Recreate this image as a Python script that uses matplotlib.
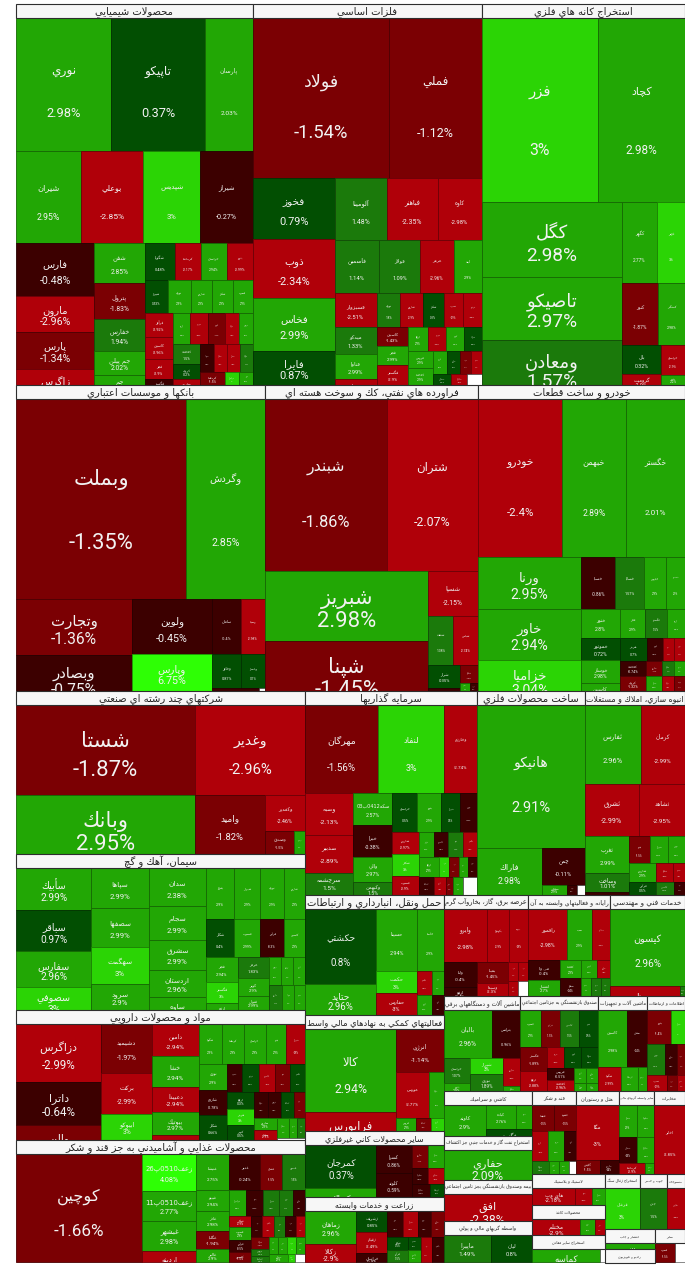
import re
import matplotlib
matplotlib.use('Agg')
import matplotlib.pyplot as plt
from matplotlib.patches import Rectangle

def R(*c): return ('R', c)   # children side by side
def C(*c): return ('C', c)   # children stacked

tiny_names = ['شگویا','کرماشا','خراسان','پترو','شیراز','نوری','شاروم','شکلر','فسرب','فرآور','کاسپین','فجر',
              'فگستر','ارفع','هرمز','کویر','فنوال','فروس','کحافظ','کروی','ساروم','سفار','سکرما','سقاین']

chem = C(R((12540,'نوري',2.98),(12408,'تاپيكو',0.37),(6336,'پارسان',2.03)),
    R((5980,'شيران',2.95),(5796,'بوعلي',-2.85),(5244,'شپديس',3),(4876,'شيراز',-0.27)),
    R(C((4134,'فارس',-0.48),(2808,'مارون',-2.96),(2886,'پارس',-1.34),(1248,'زاگرس',-2.99)),
      C((2000,'شفن',2.85),(1800,'پترول',-1.83),(1600,'خفارس',1.94),(1200,'جم پيلن',2.02),(500,'جم',2.9)),
      C(R((1110,0.48),(962,-2.17),(962,2.94),(962,-2.99)),
        R((759,0.53),(759,2.9),(693,2.9),(693,2.9),(660,2.9)),
        R(C((672,-2.92),(616,-2.96),(588,-2.9),(168,-0.5)),
          C(R((527,2.9),(527,-2.9),(527,-1.5),(434,-2.9),(434,2.9)),
            R(C((540,1.5),(405,0.2),(162,-2.85)),
              C(R((364,-0.6),(364,-2.9),(364,-2.9),(364,1.5)),R((325,-1.5),(182,3),(182,2.9)))))))))

metal_tail = C(R((322,2.9),(299,0.5),(253,-1.5),(230,-2.9)),R((198,0.7),(176,-2.9),(154,None)))
metal_small = C(R((480,2.9),(432,-2.9),(432,2.9),(408,0.6)),R(C((425,2.9),(425,2.9)),metal_tail))
metal_right = C(R((782,1.8),(748,-2.9),(714,0.3),(646,-2.9),(612,-2.9)),R(C((589,-1.43),(589,2.99),(620,-2.9)),metal_small))
metals = C(R((21624,'فولاد',-1.54),(14628,'فملي',-1.12)),
    R(C((4941,'فخوز',0.79),(4779,'ذوب',-2.34),(4293,'فخاس',2.99),(2754,'فايرا',0.87)),
      C(R((3172,'آلومينا',1.48),(3111,'فباهنر',-2.35),(2684,'كاوه',-2.98)),
        R((2376,'فاسمين',1.14),(2160,'فولاژ',1.09),(1836,'هرمز',-2.96),(1458,'ابند',2.9)),
        R(C((1428,'فسبزوار',-2.51),(1134,'ميدكو',1.33),(1050,'فناوا',2.99),(252,-2.9)),metal_right))))

mines = C(R((21228,'فزر',3),(15921,'كچاد',2.98)),
    R(C((10500,'كگل',2.98),(8820,'تاصيكو',2.97),(6300,'ومعادن',1.57)),
      C(R((2835,'كگهر',2.77),(2268,'ذوبر',3)),
        R((2232,'كنور',-1.87),(1674,'كمنگنز',2.98)),
        R(C((1131,'بال',0.32),(429,'گروميت',-2.9)),C((720,-2.9),(240,2.2))))))

banks = C(R((34000,'وبملت',-1.35),(15800,'وگردش',2.85)),
    R(C((6496,'وتجارت',-1.36),(4176,'وبصادر',-0.75)),
      C(R((4400,'ولوين',-0.45),(1595,'سامان',-0.4),(1320,'وسينا',-2.98)),
        R((2960,'وپارس',6.75),
          C(R((986,'وخاور',0.87),(816,'وپاسار',0.7)),R((141,-0.4),(18,None)))))))

refining = C(R((20812,'شبندر',-1.86),(15652,'شتران',-2.07)),
    R(C((11410,'شبريز',2.98),(8150,'شپنا',-1.45)),
      C((2200,'شسپا',-2.15),
        R((1225,'شنفت',1.38),(1225,'شپاس',-2.74)),
        R(C((704,'شراز',0.35),(120,-0.5)),C((324,-1.5),R((80,2.9),(64,-0.4)))))))

auto = C(R((13272,'خودرو',-2.4),(10112,'خبهمن',2.89),(9322,'خگستر',2.01)),
    R(C((5356,'ورنا',2.95),(5253,'خاور',2.94),(3193,'خزاميا',3.04)),
      C(R((1734,'خسپا',-0.86),(1479,'خساپا',1.57),(1122,'خپارس',2.9),(969,'خمحور',2.9)),
        R(C((1102,'خنور',2.8),(874,'خموتور',0.72),(874,'خوساز',2.98),(304,2.9)),
          C(R((754,2.9),(638,1.5),(522,2.9)),
            R((621,0.7),(368,-0.9),(253,-2.9),(253,-2.9)),
            R(C((405,-0.74),(405,-1.32)),C((240,-1.5),(240,2.9)),
              C(R((180,1.5),(165,2.9)),R((180,-2.9),(165,-1.5)))))))))

multi = R(C((16110,'شستا',-1.87),(10561,'وبانك',2.95)),
    C((9900,'وغدير',-2.96),
      R((4130,'واميد',-1.82),C((1440,'وكغدير',-2.46),R((667,'وصندوق',-1.5),(253,2.9))))))

cement = R(C((3150,'سأبيك',2.99),(3075,'سباقر',0.97),(2700,'سفارس',2.96),(1725,'سصوفي',3)),
    C((2280,'سپاها',2.99),(2223,'سصفها',2.99),(2109,'سهگمت',3),(1482,'سرود',2.9)),
    C((2166,'سدان',2.38),(1938,'سجام',2.99),(1710,'سشرق',2.99),(1539,'اردستان',2.96),(741,'ساوه',2.9)),
    C(R((1428,2.9),(1326,2.9),(1224,2.9),(1071,2.9)),
      R((1064,0.4),(988,2.99),(912,-0.3),(798,2.9)),
      R(C((768,2.94),(672,3),(224,2.9)),
        C((620,1.83),(558,2.9),(434,2.99)),
        C(R((351,2.9),(324,2.9),(324,2.9)),R((350,1.3),(300,2.9),(275,2.9))))))

pharma_tail = R(C((276,2.9),(230,-2.9)),C(R((242,2.9),(154,2.9),(154,1.5)),(60,None)))
pharma_small = R(C((442,0.3),(416,3),(390,0.5)),C(R((364,-0.5),(338,-0.5),(338,0.5),(286,-1.5)),pharma_tail))
pharma = R(C((4845,'دزاگرس',-2.99),(3655,'داترا',-0.64),(1275,'والبر',-1.5)),
    C((2400,'دشيميد',-1.97),(2050,'بركت',-2.99),(1300,'ابيوكو',3)),
    C((1504,'دامين',-2.94),(1410,'خشا',2.94),(1175,'دعبيدا',-2.94),(1081,'بيوتيك',2.97),(235,-2.9)),
    C(R((897,2.9),(858,2.9),(858,2.9),(819,2.9),(741,-2.9)),
      R(C((725,2.9),(696,-0.78),(696,0.66)),
        C(R((420,-0.5),(476,0.5),(448,-2.9),(420,-1.5),(420,0.5)),pharma_small))))

food_tail = R(C((216,-1.5),(126,1.5),(108,1.5)),C(R((153,2.9),(153,2.9),(153,3),(153,2.9)),R((152,2.9),(56,3),(80,None))))
food_small = R(C((242,-2.9),(286,2.9),(264,-0.5),(220,-1.5)),C(R((231,-0.5),(252,-2.9),(231,1.5),(231,-0.5),(189,-2.9)),food_tail))
food = R((13482,'كوچين',-1.66),
    C((1998,'زعف0510پ26',4.08),(1566,'زعف0510پ11',2.77),(1620,'غبشهر',2.98),(594,'اردينه',-2.9)),
    C(R((1188,'غنيشا',2.75),(1116,'غدير',-0.24),(792,'غشان',-1.5),(828,'غصين',1.5)),
      R(C((660,'غپينو',2.94),(660,'غاذر',2.98),(594,'غگلپا',-1.94),(429,'غالبر',2.9)),
        C(R((425,2.9),(425,-0.4),(400,1.5),(350,1.5),(300,-0.5)),food_small))))

invest_small = C(R((375,2.9),(375,-0.4),(375,1.5),(350,-2.9)),
    R((400,2.9),(200,3),(180,-1.5),(180,2.9),(180,-0.4)),
    R((270,-0.4),(216,-2.9),(126,-1.5),(190,2.9),(252,None)))
invest = C(R((6351,'مهرگان',-1.56),(5742,'لنفاد',3),(2871,'وخارزم',-2.74)),
    R(C((2016,'وصبه',-2.13),(1824,'صدبير',-2.89),(1056,'سرچشمه',1.5)),
      C((1248,'سكه0412پ03',2.57),(1248,'خبرا',-0.38),(975,'والي',2.97),(507,'وكبهمن',1.5)),
      C(R((975,0.5),(936,2.9),(741,0.5),(663,-0.4)),
        R(C((572,-2.97),(572,3),(494,-2.9)),invest_small))))

metalprod = C((15336,'هانيكو',2.91),
    R((2990,'فاراك',2.98),C((1548,'چمن',-0.11),R((250,2.9),(100,-0.4),(80,None)))))

construct = C(R((4290,'ثفارس',2.96),(3432,'كرمان',-2.99)),
    R((2756,'ثشرق',-2.99),(2392,'ثشاهد',-2.95)),
    R(C((1628,'ثغرب',2.99),(792,'وساخت',1.01),(132,-0.4)),
      C(R((540,-1.5),(486,2.9),(459,2.9)),R((468,2.9),(306,-2.9),(216,-2.9)),R((338,0.5),(234,1.5),(143,-0.5)))))

transport = R(C((5325,'حكشتي',0.8),(2201,'حتايد',2.96)),
    C(R((2480,'حسينا',2.94),(1674,'حآسا',2.9)),
      R(C((880,'حكمت',3),(880,'حفارس',-3)),C((360,-2.9),(300,2.9)),C((288,2.9),(240,-0.9)))))

electric = C(R((2332,'وايرو',-2.98),(1166,'بكهنوج',-2.9),(1007,'بپيوند',-2.9)),
    R(C((792,'ولتا',-0.4),(297,-0.4)),C((640,'بمپنا',-1.45),(416,'وسيما',-2.3)),
      C(R((180,-2.9),(180,-2.9)),R((150,-2.9),(150,None)))))

itsec = C(R((1989,'رافمور',-2.98),(1275,'سپ',2.9),(918,'مفاخر',-2.9)),
    R(C((608,'مي وا',-0.4),(512,'انتشار',2.7)),
      C(R((357,2.9),(272,2.9),(221,-2.9)),R((378,-0.4),(180,2.9),(180,1.5),(162,1.5)))))

engin = C((5625,'كيسون',2.96),R((700,'رمپنا',-2.9),(50,1.5)))

machinery = C(R((2304,'بالبان',2.96),(1316,'بترانس',-0.96)),
    R(C((624,1.07),(208,2.9)),C((528,3),(561,1.89)),C((464,-2.9),(80,2.9))))

fund_small = R(C((324,-0.51),(297,-2.96)),C(R((180,2.9),(180,2.9)),R((96,2.9),(96,2.9))))
fund = C(R((740,2.9),(703,-1.5),(703,1.5),(703,0.5)),
    R(C((648,-1.89),(540,-2.88)),C(R((357,-2.9),(357,0.5),(357,0.5)),fund_small)))

equip = C(R((1653,'كاسپين',2.98),(1140,-0.4)),R((552,-2.99),(408,2.9),(216,2.9)))
lastbox = C(R((850,-1.4),(476,3)),R((558,1.5),(403,-0.5),(248,-1.5)),R((320,-2.9),(176,-1.5),(128,-2.9)))

finaid = R(C((7553,'كالا',2.94),(1729,'فرابورس',-2.94)),
    C((2021,'انرژي',-1.14),R((1518,'هورس',-2.77),(658,2.9)),R((260,2.9),(182,-1.5),(169,3))))
othernm = R(C((3053,'كمرجان',0.37),(639,'كخاك',2.9)),
    C((980,'كسرا',-0.86),(840,'كلوند',-0.59)),
    C(R((368,-1.5),(368,2.9)),R((256,-0.5),(256,-2.9)),R((234,-0.5),(182,0.5))))
agri = R(C((1683,'زماهان',2.96),(918,'زكالا',-2.9)),
    C((651,'زشريف',0.85),(651,'زقيام',-2.49),(279,-0.9)),
    C(R((390,-0.4),(390,-2.9),(338,-0.4),(338,-1.5)),
      R(C(R((260,0.5),(169,0.5)),R((240,1.5),(156,2.9))),(275,-2.9),(300,-0.5))))
kashi = R((1302,'كاوند',2.9),C(R((720,'كباده',2.76),(384,2.9)),(322,0.5)))
oilsvc = R((2640,'حفاري',2.09),)
insur = R((2464,'افق',-2.38),)
leasing = R((1269,'ماپيرا',1.49),(1107,'ليان',0.8))
sugar = C(R((528,'قنيشا',-1.5),(528,'قشهد',-1.5)),R((448,-2.9),(448,2.9),(336,-0.4)),R((196,1.5),(126,2.9),(112,2.9),(84,None)))
hotel = C((2322,'مگا',-3),R((336,'گكيش',-1.5),(266,-0.4)))
othfin = C(R((589,2.9),(527,2.9)),R((475,-0.5),(425,2.9)),R((270,-2.9),(90,2.9)))
telecom = R((2108,'اخابر',-2.85),)
rubber = R((714,'هاي وب',-2.18),(272,-2.9),(221,2.9))
paper = R((705,'مختلم',-2.9),(210,2.9),(150,-2.9))
misc = R((924,'كماسه',2.9),(70,None))
coal = R((1330,'قزغال',3),)
wood = R((1036,'چدن',1.5),)
textile = R((700,'نطرين',-2.9),)
palas = R((370,'پالاس',2.9),)
radio = R((160,'راديو',0.4),)
lease2 = R((140,-1.5),(70,None))

sector_titles = {
 'chem':'محصولات شيميايي','metals':'فلزات اساسي','mines':'استخراج كانه هاي فلزي',
 'banks':'بانكها و موسسات اعتباري','refining':'فراورده هاي نفتي، كك و سوخت هسته اي','auto':'خودرو و ساخت قطعات',
 'multi':'شركتهاي چند رشته اي صنعتي','cement':'سيمان، آهك و گچ','pharma':'مواد و محصولات دارويي',
 'food':'محصولات غذايي و آشاميدني به جز قند و شكر','invest':'سرمايه گذاريها','metalprod':'ساخت محصولات فلزي',
 'construct':'انبوه سازي، املاك و مستغلات','transport':'حمل ونقل، انبارداري و ارتباطات',
 'electric':'عرضه برق، گاز، بخاروآب گرم','itsec':'رايانه و فعاليتهاي وابسته به آن','engin':'خدمات فني و مهندسي',
 'machinery':'ماشين آلات و دستگاههاي برقي','fund':'صندوق بازنشستگي به جزتامين اجتماعي','equip':'ماشين آلات و تجهيزات',
 'lastbox':'اطلاعات و ارتباطات','finaid':'فعاليتهاي كمكي به نهادهاي مالي واسط','othernm':'ساير محصولات كاني غيرفلزي',
 'agri':'زراعت و خدمات وابسته','kashi':'كاشي و سراميك','oilsvc':'استخراج نفت گاز و خدمات جنبي جز اكتشاف',
 'insur':'بيمه وصندوق بازنشستگي بجز تامين اجتماعي','leasing':'واسطه گريهاي مالي و پولي','sugar':'قند و شكر',
 'hotel':'هتل و رستوران','othfin':'ساير واسطه گريهاي مالي','telecom':'مخابرات','rubber':'لاستيك و پلاستيك',
 'paper':'محصولات كاغذ','misc':'استخراج ساير معادن','coal':'استخراج زغال سنگ','wood':'چوب و حصير','textile':'منسوجات',
 'palas':'انتشار و چاپ','radio':'راديو و تلويزيون','lease2':'ساير',
}
sector_bodies = dict(chem=chem,metals=metals,mines=mines,banks=banks,refining=refining,auto=auto,multi=multi,
  cement=cement,pharma=pharma,food=food,invest=invest,metalprod=metalprod,construct=construct,transport=transport,
  electric=electric,itsec=itsec,engin=engin,machinery=machinery,fund=fund,equip=equip,lastbox=lastbox,finaid=finaid,
  othernm=othernm,agri=agri,kashi=kashi,oilsvc=oilsvc,insur=insur,leasing=leasing,sugar=sugar,hotel=hotel,othfin=othfin,
  telecom=telecom,rubber=rubber,paper=paper,misc=misc,coal=coal,wood=wood,textile=textile,palas=palas,radio=radio,lease2=lease2)

# market size of every sector, arranged as the same kind of tree
m_tiny = C(R((1908,'coal'),(1484,'wood'),(1007,'textile')),R(C((990,'palas'),(675,'radio')),(999,'lease2')))
m_low = R(C((2272,'rubber'),(2130,'paper'),(1988,'misc')),m_tiny)
m_small = R(C((3960,'kashi'),(3872,'oilsvc'),(3696,'insur'),(3608,'leasing')),
    C(R((3608,'sugar'),(3526,'hotel'),(2952,'othfin'),(2542,'telecom')),m_low))
m_right = C(R((8585,'electric'),(8282,'itsec'),(7575,'engin')),
    R((7315,'machinery'),(7410,'fund'),(4655,'equip'),(3610,'lastbox')),m_small)
m_rest = C(R((34916,'invest'),(21924,'metalprod'),(20300,'construct')),
    R(C((16698,'transport'),(16008,'finaid'),(9108,'othernm'),(8970,'agri')),m_right))
market = C(R((90297,'chem'),(87059,'metals'),(77533,'mines')),
    R((76194,'banks'),(65178,'refining'),(63342,'auto')),
    R(C((47107,'multi'),(45084,'cement'),(37570,'pharma'),(35258,'food')),m_rest))

# ---- Arabic shaping (matplotlib has no text shaper) ----
D = {'ب':0xFE8F,'ت':0xFE95,'ث':0xFE99,'ج':0xFE9D,'ح':0xFEA1,'خ':0xFEA5,'س':0xFEB1,'ش':0xFEB5,'ص':0xFEB9,'ض':0xFEBD,
     'ط':0xFEC1,'ظ':0xFEC5,'ع':0xFEC9,'غ':0xFECD,'ف':0xFED1,'ق':0xFED5,'ك':0xFED9,'ل':0xFEDD,'م':0xFEE1,'ن':0xFEE5,
     'ه':0xFEE9,'ي':0xFEF1,'ی':0xFBFC,'پ':0xFB56,'چ':0xFB7A,'ک':0xFB8E,'گ':0xFB92}
U = {'ا':0xFE8D,'آ':0xFE81,'أ':0xFE83,'د':0xFEA9,'ذ':0xFEAB,'ر':0xFEAD,'ز':0xFEAF,'ژ':0xFB8A,'و':0xFEED}

def shape(s):
    out = []
    i = 0
    n = len(s)
    while i < n:
        ch = s[i]
        prev_j = i > 0 and s[i-1] in D
        if ch == 'ل' and i+1 < n and s[i+1] in ('ا','آ','أ'):
            base = {'ا':0xFEFB,'آ':0xFEF5,'أ':0xFEF7}[s[i+1]]
            out.append(chr(base + (1 if prev_j else 0)))
            i += 2
            continue
        next_j = i+1 < n and (s[i+1] in D or s[i+1] in U)
        if ch in D:
            form = (3 if next_j else 1) if prev_j else (2 if next_j else 0)
            out.append(chr(D[ch] + form))
        elif ch in U:
            out.append(chr(U[ch] + (1 if prev_j else 0)))
        else:
            out.append(ch)
        i += 1
    visual = ''.join(reversed(out))
    return re.sub(r'[0-9A-Za-z.]+', lambda m: m.group(0)[::-1], visual)

def colour(p):
    if p is None: return '#ffffff'
    if p >= 3.5: return '#2eff05'
    if p >= 3: return '#2bd405'
    if p >= 2: return '#22a705'
    if p >= 1: return '#1b7a0b'
    if p >= 0: return '#024f02'
    if p > -1: return '#3c0000'
    if p > -2: return '#7b0003'
    return '#b00009'

def edge(c):
    r, g, b = matplotlib.colors.to_rgb(c)
    return (r*.62, g*.62, b*.62)

def total(node):
    if node[0] in ('R', 'C'):
        return sum(total(k) for k in node[1])
    return node[0]

fig = plt.figure(figsize=(6.85, 12.8), dpi=100, facecolor='white')
ax = fig.add_axes([0, 0, 1, 1])
ax.set_xlim(0, 685)
ax.set_ylim(1280, 0)
ax.axis('off')
renderer = fig.canvas.get_renderer()

pool = {'i': 0}
LAT = ['Roboto', 'DejaVu Sans']
AR = ['DejaVu Sans']

def draw_leaf(leaf, x, y, w, h):
    if len(leaf) == 3:
        _, name, p = leaf
    else:
        _, p = leaf
        name = tiny_names[pool['i'] % len(tiny_names)]
        pool['i'] += 1
    if p is None:
        ax.add_patch(Rectangle((x, y), w, h, fc='white', ec='#303030', lw=0.4))
        return
    col = colour(p)
    rect = Rectangle((x, y), w, h, fc=col, ec=edge(col), lw=0.6)
    ax.add_patch(rect)
    px = min(w / 7.4, 22)
    pt = px * 0.72
    sep = max(0.32 * h, 1.05 * px)
    c = max(0.56 * h, 1.7 * px)
    t1 = ax.text(x + w/2, y + c - sep/2, shape(name), ha='center', va='center', color='#f2f2f2',
                 fontsize=pt*0.95, family=AR, clip_on=True)
    t2 = ax.text(x + w/2, y + c + sep/2, f'{p:g}%', ha='center', va='center', color='#f2f2f2',
                 fontsize=pt, family=LAT, clip_on=True)
    t1.set_clip_path(rect)
    t2.set_clip_path(rect)

def layout(node, x, y, w, h, fn):
    if node[0] in ('R', 'C'):
        tot = total(node)
        pos = 0.0
        for k in node[1]:
            f = total(k) / tot
            if node[0] == 'R':
                layout(k, x + pos*w, y, f*w, h, fn)
            else:
                layout(k, x, y + pos*h, w, f*h, fn)
            pos += f
    else:
        fn(node, x, y, w, h)

def draw_sector(leaf, x, y, w, h):
    key = leaf[1]
    hh = 14.0
    layout(sector_bodies[key], x, y + hh, w, h - hh, draw_leaf)
    head = Rectangle((x, y), w, hh, fc='#f7f7f7', ec='#2e2e2e', lw=0.8, zorder=3)
    ax.add_patch(head)
    fs = min(max(0.06 * (w*h)**0.5, 2.4), 7.2)
    t = ax.text(x + w/2, y + hh/2 + 0.5, shape(sector_titles[key]), ha='center', va='center',
                color='#222222', fontsize=fs, family=AR, zorder=4, clip_on=True)
    tw = t.get_window_extent(renderer).width
    if tw > w - 3:
        t.set_fontsize(fs * (w - 3) / tw)
    t.set_clip_path(head)

layout(market, 16, 4, 669, 1258, draw_sector)
fig.savefig('out.png', dpi=100, facecolor='white')
